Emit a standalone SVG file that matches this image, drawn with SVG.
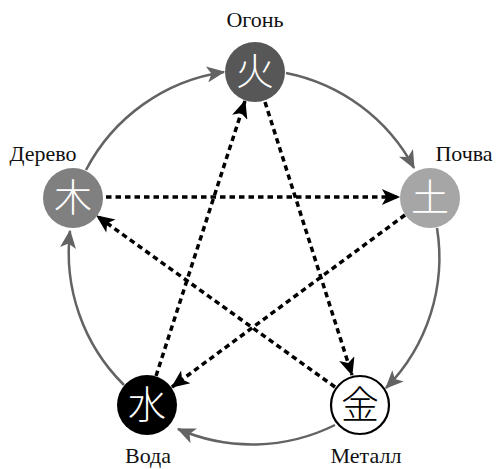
<svg xmlns="http://www.w3.org/2000/svg" width="498" height="469" viewBox="0 0 498 469">
<style>
.lbl{font-family:"Liberation Serif","Times New Roman",serif;font-size:22px;fill:#111;text-anchor:middle}
.ch{font-family:"Noto Sans CJK JP","Noto Sans CJK SC",sans-serif;font-size:38px;text-anchor:middle;font-weight:300}
.arc{fill:none;stroke:#636363;stroke-width:2.5;marker-end:url(#ga)}
.dash{fill:none;stroke:#000;stroke-width:3.5;stroke-dasharray:5.5 4;marker-end:url(#ba)}
</style>
<defs>
<marker id="ga" markerUnits="userSpaceOnUse" markerWidth="20" markerHeight="16" refX="15" refY="7" orient="auto" viewBox="0 0 16 14">
<path d="M0,0 L16,7 L0,14 L4,7 Z" fill="#636363"/>
</marker>
<marker id="ba" markerUnits="userSpaceOnUse" markerWidth="20" markerHeight="16" refX="15" refY="7" orient="auto" viewBox="0 0 16 14">
<path d="M0,0 L16,7 L0,14 L4,7 Z" fill="#000"/>
</marker>
</defs>
<g id="connectors">
<path class="arc" d="M286,73 A186,186 0 0 1 414,168"/>
<path class="arc" d="M437,228 A186,186 0 0 1 386,388"/>
<path class="arc" d="M335,425 A186,186 0 0 1 178,429"/>
<path class="arc" d="M124,385 A186,186 0 0 1 70,231"/>
<path class="arc" d="M86,170 A186,186 0 0 1 224,72"/>
<path class="dash" d="M265,102 L352,375"/>
<path class="dash" d="M335,387 L97,216"/>
<path class="dash" d="M106,197 L399,197"/>
<path class="dash" d="M405,215 L172,387"/>
<path class="dash" d="M156,376 L245,101"/>
</g>
<g id="fire">
<circle cx="255" cy="72" r="30" fill="#575757"/>
<text class="ch" x="255" y="85" fill="#fff">火</text>
<text class="lbl" x="255" y="27">Огонь</text>
</g>
<g id="earth">
<circle cx="430" cy="198" r="30" fill="#a6a6a6"/>
<text class="ch" x="430" y="211" fill="#fff">土</text>
<text class="lbl" x="464" y="161">Почва</text>
</g>
<g id="metal">
<circle cx="360" cy="405" r="29" fill="#fff" stroke="#000" stroke-width="2.2"/>
<text class="ch" x="360" y="418" fill="#000">金</text>
<text class="lbl" x="366" y="463">Металл</text>
</g>
<g id="water">
<circle cx="147" cy="405" r="30" fill="#000"/>
<text class="ch" x="147" y="418" fill="#fff">水</text>
<text class="lbl" x="148" y="463">Вода</text>
</g>
<g id="wood">
<circle cx="73" cy="198" r="30" fill="#808080"/>
<text class="ch" x="73" y="211" fill="#fff">木</text>
<text class="lbl" x="43" y="161">Дерево</text>
</g>
</svg>
